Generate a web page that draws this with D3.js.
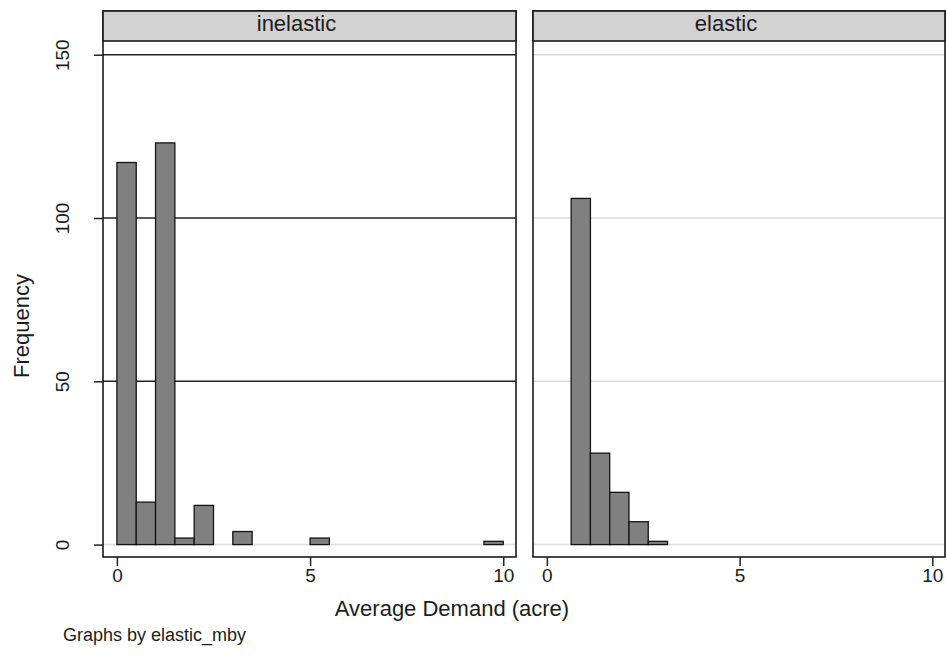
<!DOCTYPE html>
<html>
<head>
<meta charset="utf-8">
<script src="https://cdn.jsdelivr.net/npm/d3@7"></script>
<style>
  body { margin: 0; background: #fff; }
  text { font-family: Arial, "Liberation Sans", sans-serif; fill: #1c1c1c; }
</style>
</head>
<body>
<div id="chart"></div>
<script>
// histogram data (bin width 0.5)
const panelNames = ["inelastic", "elastic"];
const binWidth = 0.5;
const inelasticStart = 0;
const inelasticCounts = [117, 13, 123, 2, 12, 0, 4, 0, 0, 0, 2, 0, 0, 0, 0, 0, 0, 0, 0, 1];
const elasticStart = 0.63;
const elasticCounts = [106, 28, 16, 7, 1];
const xTicks = [0, 5, 10];
const yTicks = [0, 50, 100, 150];
const xTitle = "Average Demand (acre)";
const yTitle = "Frequency";
const noteText = "Graphs by elastic_mby";

class FacetHistogram {
  constructor() {
    this.width = 947;
    this.height = 655;
    this.top = 11;        // top of header strip
    this.stripH = 30;
    this.bottom = 557;    // bottom of plot region
    this.panelX = [[103, 516], [533, 945]];
    this.panels = [
      { name: panelNames[0], start: inelasticStart, counts: inelasticCounts, darkGrid: true },
      { name: panelNames[1], start: elasticStart, counts: elasticCounts, darkGrid: false }
    ];
    this.layout();
  }

  layout() {
    this.svg = d3.select("#chart")
      .append("svg")
      .attr("width", this.width)
      .attr("height", this.height);

    this.yScale = d3.scaleLinear()
      .domain([-3.8, 154.2])
      .range([this.bottom, this.top + this.stripH]);

    for (var p = 0; p < this.panels.length; p++) {
      this.drawPanel(this.panels[p], this.panelX[p], p == 0);
    }
    this.drawTitles();
  }

  drawPanel(panel, xr, withYAxis) {
    const that = this;
    var g = this.svg.append("g");
    var x = d3.scaleLinear().domain([-0.36, 10.33]).range(xr);

    // grid lines - first panel draws them dark, except the zero line
    g.append("g").selectAll("line")
      .data(yTicks)
      .join("line")
      .attr("x1", xr[0])
      .attr("x2", xr[1])
      .attr("y1", d => this.yScale(d))
      .attr("y2", d => this.yScale(d))
      .style("stroke", d => (panel.darkGrid && d != 0) ? "#222" : "#dcdcdc")
      .style("stroke-width", 1.5);

    var bins = [];
    panel.counts.forEach((c, i) => {
      if (c > 0) bins.push({ x0: panel.start + i * binWidth, x1: panel.start + (i + 1) * binWidth, n: c });
    });

    g.append("g").selectAll("rect")
      .data(bins)
      .join("rect")
      .attr("x", d => x(d.x0))
      .attr("width", d => x(d.x1) - x(d.x0))
      .attr("y", d => that.yScale(d.n))
      .attr("height", d => that.yScale(0) - that.yScale(d.n))
      .style("fill", "#808080")
      .style("stroke", "#141414")
      .style("stroke-width", 1.3);

    // x axis
    var xAxis = g.append("g")
      .attr("transform", "translate(0," + this.bottom + ")")
      .call(d3.axisBottom(x).tickValues(xTicks).tickSize(9).tickSizeOuter(0).tickPadding(3));
    xAxis.select(".domain").remove();
    xAxis.selectAll("line").style("stroke", "#222").style("stroke-width", 1.5);
    xAxis.selectAll("text").style("font-size", "19px").attr("fill", "#1c1c1c");

    if (withYAxis) {
      var yAxis = g.append("g")
        .attr("transform", "translate(" + xr[0] + ",0)")
        .call(d3.axisLeft(this.yScale).tickValues(yTicks).tickSize(9).tickSizeOuter(0));
      yAxis.select(".domain").remove();
      yAxis.selectAll("line").style("stroke", "#222").style("stroke-width", 1.5);
      yAxis.selectAll("text")
        .attr("transform", "rotate(-90)")
        .attr("x", 0)
        .attr("y", -34)
        .attr("dy", 0)
        .attr("text-anchor", "middle")
        .attr("fill", "#1c1c1c")
        .style("font-size", "19px");
    }

    // panel frame
    g.append("rect")
      .attr("x", xr[0])
      .attr("y", this.top)
      .attr("width", xr[1] - xr[0])
      .attr("height", this.bottom - this.top)
      .style("fill", "none")
      .style("stroke", "#1a1a1a")
      .style("stroke-width", 1.6);

    // header strip
    g.append("rect")
      .attr("x", xr[0])
      .attr("y", this.top)
      .attr("width", xr[1] - xr[0])
      .attr("height", this.stripH)
      .style("fill", "#d2d2d2")
      .style("stroke", "#1a1a1a")
      .style("stroke-width", 1.6);

    g.append("text")
      .attr("x", (xr[0] + xr[1]) / 2 - 13)
      .attr("y", this.top + 20)
      .attr("text-anchor", "middle")
      .style("font-size", "22px")
      .text(panel.name);
  }

  drawTitles() {
    this.svg.append("text")
      .attr("x", 452)
      .attr("y", 616)
      .attr("text-anchor", "middle")
      .style("font-size", "22px")
      .text(xTitle);

    this.svg.append("text")
      .attr("transform", "translate(29,326) rotate(-90)")
      .attr("text-anchor", "middle")
      .style("font-size", "22px")
      .text(yTitle);

    this.svg.append("text")
      .attr("x", 63)
      .attr("y", 641)
      .style("font-size", "18px")
      .text(noteText);
  }
}

new FacetHistogram();
</script>
</body>
</html>
